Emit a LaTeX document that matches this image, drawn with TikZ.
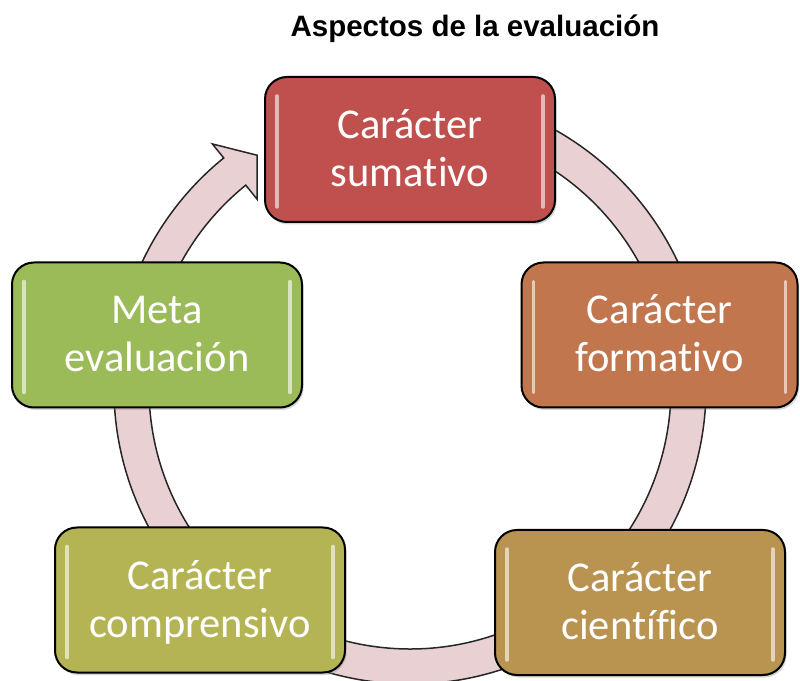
\documentclass[tikz,border=0pt]{standalone}
\usepackage{fontspec}
\setmainfont{Carlito}[Ligatures=NoCommon]
\newfontfamily\titlefont{Liberation Sans}
\definecolor{ringpink}{RGB}{233,209,211}
\definecolor{csum}{RGB}{192,80,77}
\definecolor{cform}{RGB}{193,118,78}
\definecolor{ccien}{RGB}{185,147,80}
\definecolor{ccomp}{RGB}{180,180,84}
\definecolor{cmeta}{RGB}{155,187,89}
\begin{document}
\begin{tikzpicture}[x=1pt,y=1pt,
  box/.style={draw=black, line width=2pt, rounded corners=22pt,
    minimum width=290pt, minimum height=145pt, text=white,
    font=\fontsize{42.5}{48}\selectfont, align=center, inner sep=0pt,
    text height=86pt, text depth=12pt,
    preaction={fill=black!45, opacity=0.35, transform canvas={xshift=1.5pt,yshift=-2.5pt}}},
  ring/.style={fill=ringpink, draw=black!85, line width=1.5pt, line join=miter},
  hl/.style={line width=3.5pt, line cap=round}]
\useasboundingbox (0,0) rectangle (800,680);
\fill[white] (0,0) rectangle (800,680);
\node[font=\titlefont\bfseries\fontsize{29.5}{31}\selectfont, anchor=base] (title) at (475,643) {Aspectos de la evaluación};
% cycle arrow
\begin{scope}[shift={(410,292)}]
\draw[ring] (80:296) arc[start angle=80, end angle=-231, radius=296]
  -- (-231:314) -- (-236.7:278.5) -- (-231:243) -- (-231:261)
  arc[start angle=-231, end angle=80, radius=261] -- cycle;
\end{scope}
% boxes
\node[box, fill=csum] (sum) at (410,530.5) {Carácter\\sumativo};
\node[box, fill=cform, minimum width=276pt] (form) at (659.5,345) {Carácter\\formativo};
\node[box, fill=ccien] (cien) at (640,77.5) {Carácter\\científico};
\node[box, fill=ccomp] (comp) at (200,80) {Carácter\\comprensivo};
\node[box, fill=cmeta] (meta) at (157,345) {Meta\\evaluación};
% glossy highlights
\foreach \n/\c in {sum/csum, form/cform, cien/ccien, comp/ccomp, meta/cmeta}{
  \draw[hl, draw=\c!40!white] ([xshift=13pt,yshift=-20pt]\n.north west) -- ([xshift=13pt,yshift=16pt]\n.south west);
  \draw[hl, draw=\c!40!white] ([xshift=-13pt,yshift=-20pt]\n.north east) -- ([xshift=-13pt,yshift=16pt]\n.south east);
}
\end{tikzpicture}
\end{document}
